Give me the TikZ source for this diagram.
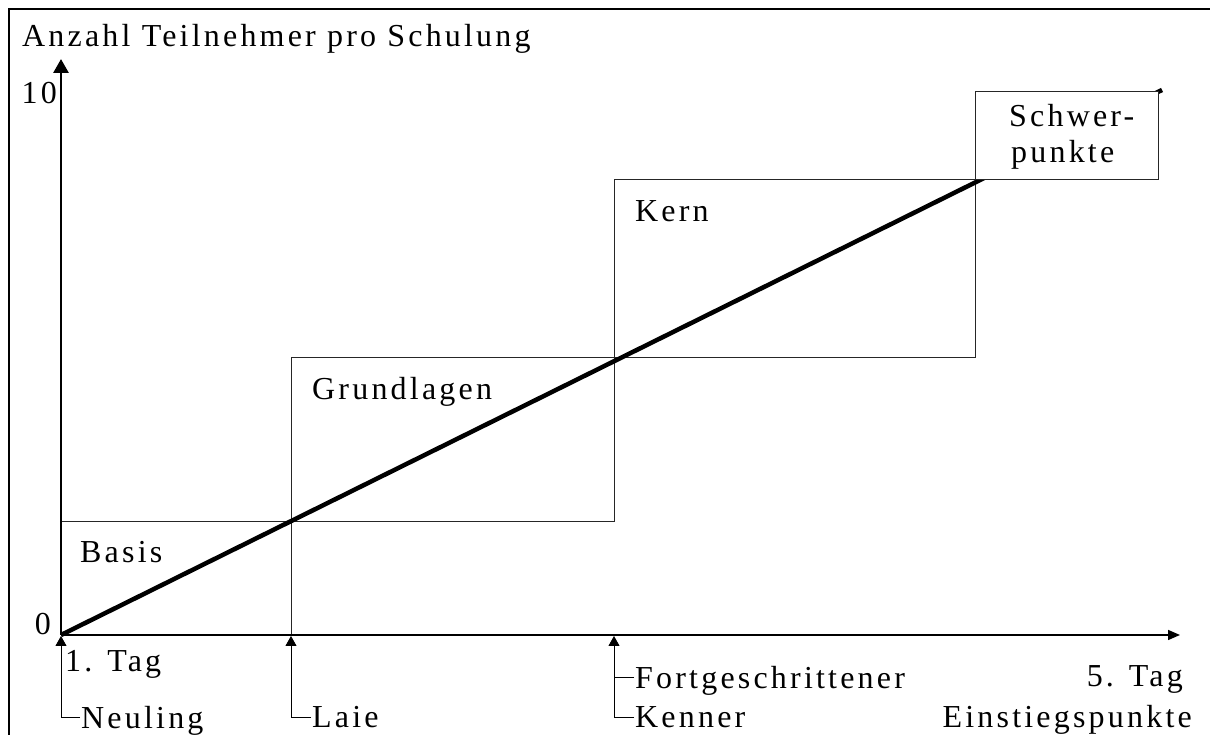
\documentclass[tikz,border=0pt]{standalone}
\usepackage{fontspec}
\setmainfont{Liberation Serif}[LetterSpace=10]
\usepackage{tikz}
\usetikzlibrary{arrows.meta,calc}

\begin{document}
\begin{tikzpicture}[x=1pt, y=1pt,
  lbl/.style={inner sep=0pt, anchor=base west, font=\fontsize{32}{38}\selectfont},
  tick/.style={inner sep=1pt, anchor=west, text depth=0pt, font=\fontsize{32}{38}\selectfont},
  stufe/.style={draw=black!85, line width=1pt},
  achse/.style={-{Triangle[length=12pt,width=10pt]}, line width=1.5pt},
  zeiger/.style={-{Triangle[length=10pt,width=11pt]}, line width=0.9pt},
  trend/.style={line width=4.5pt}]
\useasboundingbox (0,0) rectangle (1210,735);
\draw[line width=2pt] (9,-20) rectangle (1240,726);
\coordinate (o) at (61,100);
\coordinate (p1) at (61,99);
\coordinate (p2) at (291,99);
\coordinate (p3) at (614,99);
\draw[stufe] (o) |- (614,213);
\draw[stufe] (p2) |- (975,377);
\draw[stufe] (614,213) |- (1158,555);
\draw[stufe] (975,377) -- (975,555);
\draw[trend] (o) -- (1162,645);
\draw[stufe, fill=white] (975,555) rectangle (1158,643);
\draw[achse] (o) -- (1180,100);
\draw[achse, line width=2.8pt, -{Triangle[length=14pt,width=15pt]}] (o) -- (61,676);
\node[lbl] (titel) at (22,688) {Anzahl Teilnehmer pro Schulung};
\node[lbl, anchor=base east] (zehn) at (57,631) {10};
\node[lbl, anchor=base east] (null) at (51,100) {0};
\node[lbl] (tag1) at (65,63) {1. Tag};
\node[lbl, anchor=base east] (tag5) at (1183,48) {5. Tag};
\node[lbl, anchor=base east] (einstieg) at (1192,7) {Einstiegspunkte};
\node[lbl] (basis) at (80,172) {Basis};
\node[lbl] (grund) at (312,335) {Grundlagen};
\node[lbl] (kern) at (635,513) {Kern};
\node[lbl] (schwer) at (1009,608) {Schwer-};
\node[lbl] (punkte) at (1011,572) {punkte};
\node[tick] (neuling) at (80,18) {Neuling};
\node[tick] (laie) at (311,18) {Laie};
\node[tick] (fortg) at (634,58) {Fortgeschrittener};
\node[tick] (kenner) at (634,18) {Kenner};
\draw[zeiger] (neuling.west) -| (p1);
\draw[zeiger] (laie.west) -| (p2);
\draw[zeiger] (kenner.west) -| (p3);
\draw[line width=0.9pt] (fortg.west) -- (fortg.west -| p3);
\end{tikzpicture}
\end{document}
